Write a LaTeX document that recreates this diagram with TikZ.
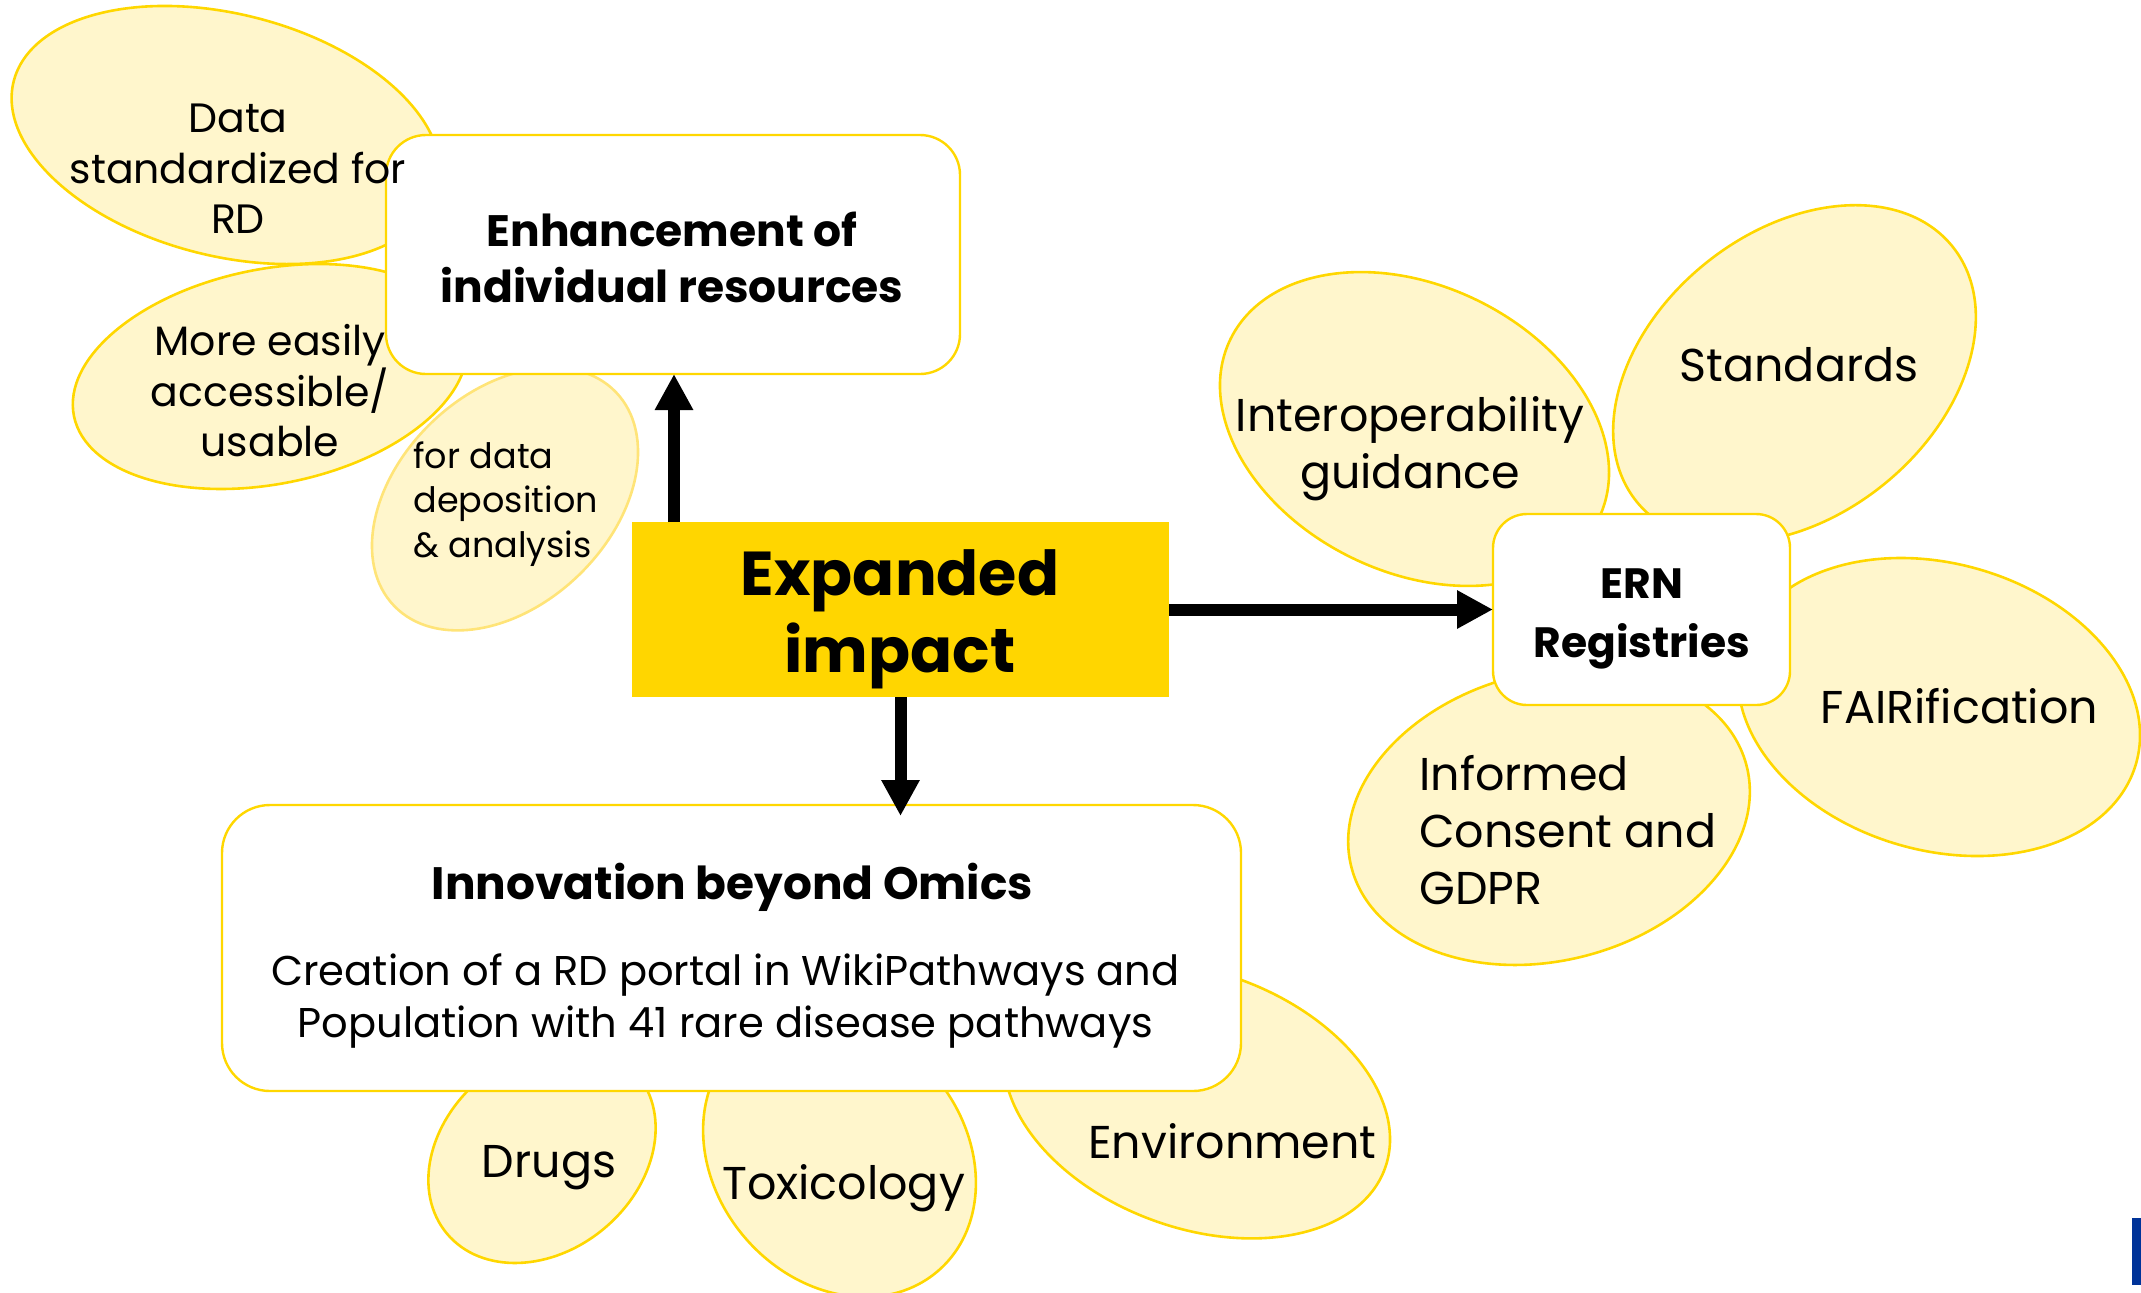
\documentclass[tikz,border=0pt]{standalone}
\usepackage{fontspec}
\setmainfont{Poppins}
\usetikzlibrary{arrows.meta}
\definecolor{gold}{RGB}{255,214,0}
\definecolor{goldline}{RGB}{255,215,0}
\definecolor{petalfill}{RGB}{255,246,204}
\definecolor{paleline}{RGB}{255,228,120}
\definecolor{eublue}{RGB}{0,51,153}
\begin{document}
\begin{tikzpicture}[x=0.5pt,y=0.5pt,
  petal/.style={draw=goldline, fill=petalfill, line width=1.3pt},
  palepetal/.style={draw=paleline, fill=petalfill, line width=1.3pt},
  rbox/.style={draw=goldline, fill=white, line width=1.2pt, inner sep=0pt, outer sep=0pt},
  goldbox/.style={fill=gold, inner sep=0pt, outer sep=0pt},
  arr/.style={line width=6pt, -{Triangle[length=18pt,width=18pt]}},
  lbl/.style={inner sep=0pt, align=center, font=\fontsize{20.5}{25.25}\selectfont},
  lblR/.style={inner sep=0pt, align=center, font=\fontsize{23}{28.5}\selectfont},
  lblS/.style={inner sep=0pt, align=left, font=\fontsize{17.5}{22.25}\selectfont},
  ttl/.style={inner sep=0pt, align=center, font=\bfseries\fontsize{22}{28}\selectfont},
  body/.style={inner sep=0pt, align=center, font=\fontsize{20.8}{25.8}\selectfont}]
\useasboundingbox (0,0) rectangle (2141,-1292);

% petals around "Enhancement"
\draw[palepetal, rotate around={44:(505,-499)}] (505,-499) ellipse [x radius=77pt, y radius=53pt];
\draw[petal, rotate around={-14.2:(226,-135)}] (226,-135) ellipse [x radius=109.5pt, y radius=60.5pt];
\draw[petal, rotate around={11.4:(270,-376.5)}] (270,-376.5) ellipse [x radius=100pt, y radius=53.7pt];

% petals around "ERN Registries"
\draw[petal, rotate around={-26:(1414.5,-429)}] (1414.5,-429) ellipse [x radius=102.4pt, y radius=71.6pt];
\draw[petal, rotate around={39:(1794.5,-374)}] (1794.5,-374) ellipse [x radius=101.5pt, y radius=71pt];
\draw[petal, rotate around={-16:(1939,-707)}] (1939,-707) ellipse [x radius=102.5pt, y radius=71.7pt];
\draw[petal, rotate around={14.4:(1549,-816.5)}] (1549,-816.5) ellipse [x radius=102pt, y radius=72pt];

% petals under "Innovation"
\draw[petal, rotate around={40:(542,-1154)}] (542,-1154) ellipse [x radius=62pt, y radius=48.5pt];
\draw[petal, rotate around={-49.4:(839.5,-1156.5)}] (839.5,-1156.5) ellipse [x radius=75.5pt, y radius=62.3pt];
\draw[petal, rotate around={-20:(1197,-1100)}] (1197,-1100) ellipse [x radius=100pt, y radius=64pt];

% boxes
\node[rbox, rounded corners=20pt, minimum width=287pt, minimum height=119.5pt] (enh) at (673,-254.5) {};
\node[goldbox, minimum width=268.5pt, minimum height=87.5pt] (exp) at (900.5,-609.5) {};
\node[rbox, rounded corners=17pt, minimum width=148.5pt, minimum height=95.5pt] (ern) at (1641.5,-609.5) {};
\node[rbox, rounded corners=24pt, minimum width=509.5pt, minimum height=143pt] (inn) at (731.5,-948) {};

% arrows
\draw[arr] ([xshift=21pt]exp.north west) -- ([xshift=21pt]exp.north west |- enh.south);
\draw[arr] (exp.south) -- ([yshift=-5.5pt]exp.south |- inn.north);
\draw[arr] (exp.east) -- (ern.west);

% titles
\node[ttl] (enhT) at (672,-257.5) {Enhancement of\\individual resources};
\node[inner sep=0pt, align=center, font=\bfseries\fontsize{31}{38.5}\selectfont] (expT) at (900,-619) {Expanded\\impact};
\node[ttl, font=\bfseries\fontsize{21.2}{29.5}\selectfont] (ernT) at (1642,-619) {ERN\\Registries};
\node[ttl, font=\bfseries\fontsize{22.7}{28}\selectfont] (innT) at (732.5,-887.5) {Innovation beyond Omics};
\node[body] (innB) at (725.5,-1001) {Creation of a RD portal in WikiPathways and\\Population with 41 rare disease pathways};

% petal labels
\node[lbl] (p1) at (238,-169) {Data\\standardized for\\RD};
\node[lbl] (p2) at (270,-391) {More easily\\accessible/\\usable};
\node[lblS, anchor=west] (p3) at (413,-504) {for data\\deposition\\\& analysis};
\node[lblR] (p4) at (1410,-448.5) {Interoperability\\guidance};
\node[lblR] (p5) at (1799,-365) {Standards};
\node[lblR] (p6) at (1959.5,-706) {FAIRification};
\node[lblR, align=left, anchor=west] (p7) at (1419,-830) {Informed\\Consent and\\GDPR};
\node[lblR] (p8) at (549,-1167.5) {Drugs};
\node[lblR] (p9) at (843.5,-1188) {Toxicology};
\node[lblR] (p10) at (1232.5,-1141) {Environment};

% blue edge mark
\fill[eublue] (2132,-1218) rectangle (2141,-1285);
\end{tikzpicture}
\end{document}
